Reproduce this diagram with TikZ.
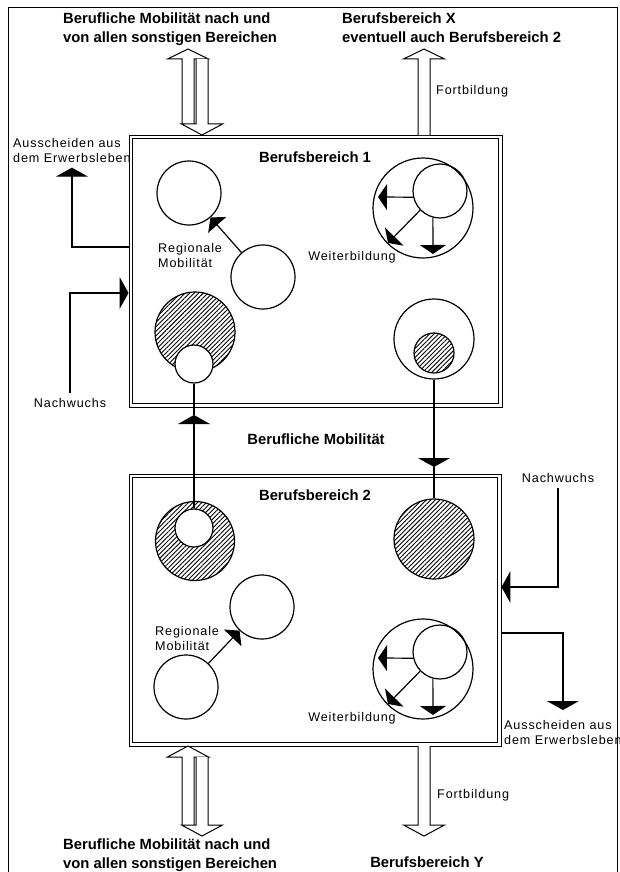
\documentclass[tikz,border=0pt]{standalone}
\usepackage{fontspec}
\setmainfont{Liberation Sans}
\usetikzlibrary{positioning,calc,arrows.meta,patterns.meta}

\tikzset{
  frame/.style={line width=0.9pt},
  bereich/.style={draw, line width=0.9pt, inner sep=0pt},
  innen/.style={line width=0.9pt},
  ring/.style={draw, circle, line width=1.2pt, inner sep=0pt},
  hatched/.style={ring, pattern={Lines[angle=45,distance=3.2pt,line width=0.9pt]}},
  blank/.style={ring, fill=white},
  titel/.style={font=\fontsize{14.8}{18.5}\selectfont\bfseries, inner sep=0pt},
  beschr/.style={font=\fontsize{12.6}{15}\selectfont\addfontfeatures{LetterSpace=7}, inner sep=0pt, align=left},
  flow/.style={line width=1.2pt},
  bigtip/.style={flow, -{Triangle[width=32pt,length=9pt]}},
  midtip/.style={flow, -{Triangle[width=24pt,length=10pt]}},
  smalltip/.style={flow, -{Triangle[width=26pt,length=9pt]}},
  broad/.style={line width=1pt, fill=white, line join=miter},
}

% broad hollow arrow: x, tail, head base, tip
\newcommand{\breitpfeil}[4]{%
  \draw[broad] (#1-6,#2) -- (#1-6,#3) -- (#1-20.5,#3) -- (#1,#4) -- (#1+20.5,#3) -- (#1+6,#3) -- (#1+6,#2);}

\begin{document}
\begin{tikzpicture}[x=1pt,y=-1pt]
\useasboundingbox (0,0) rectangle (620,872);
\draw[frame] (8,872) -- (8,7) -- (617,7) -- (617,872);

% headings
\node[titel, align=left, anchor=north west] (kopfL) at (63,13) {Berufliche Mobilität nach und\\von allen sonstigen Bereichen};
\node[titel, align=left, anchor=north west] (kopfR) at (342,13) {Berufsbereich X\\eventuell auch Berufsbereich 2};
\node[titel, align=left, anchor=north west] (fussL) at (63,839) {Berufliche Mobilität nach und\\von allen sonstigen Bereichen};
\node[titel, anchor=base] (fussR) at (427,867) {Berufsbereich Y};

% the two areas, double frame
\node[bereich, minimum width=373pt, minimum height=272pt] (b1) at (315.5,271) {};
\draw[innen] ([shift={(4,4)}]b1.north west) rectangle ([shift={(-4,-4)}]b1.south east);
\node[bereich, minimum width=372pt, minimum height=272pt] (b2) at (315,610) {};
\draw[innen] ([shift={(4,4)}]b2.north west) rectangle ([shift={(-4,-4)}]b2.south east);
\node[titel] (tb1) at (315,157) {Berufsbereich 1};
\node[titel] (tb2) at (315,495) {Berufsbereich 2};
\node[titel] (mob) at (316,439) {Berufliche Mobilität};

% broad arrows
\breitpfeil{188}{124}{59}{49}
\breitpfeil{202}{59}{124}{135}
\breitpfeil{424}{135}{59}{49}
\node[beschr, anchor=west] (fb1) at (436,91) {Fortbildung};
\breitpfeil{188}{825}{757}{746}
\breitpfeil{202}{757}{825}{836}
\breitpfeil{424}{746}{825}{836}
\node[beschr, anchor=west] (fb2) at (437,795) {Fortbildung};

% regional mobility
\node[ring, minimum size=64pt] (r1a) at (189,193) {};
\node[ring, minimum size=64pt] (r1b) at (263,277) {};
\draw[midtip] (r1b) -- (r1a);
\node[beschr, anchor=west] (reg1) at (158,255) {Regionale\\Mobilität};
\node[ring, minimum size=64pt] (r2a) at (262,607) {};
\node[ring, minimum size=64pt] (r2b) at (186,687) {};
\draw[midtip] (r2b) -- (r2a);
\node[beschr, anchor=west] (reg2) at (155,638) {Regionale\\Mobilität};

% further training
\foreach \n/\cy in {1/208, 2/669} {
  \node[ring, minimum size=100pt] (w\n) at (423,\cy) {};
  \node[ring, minimum size=54pt] (wi\n) at (440,\cy-17) {};
  \coordinate (wl\n) at (378,\cy-11);
  \coordinate (wd\n) at (388,\cy+35);
  \coordinate (wu\n) at (433,\cy+46);
  \draw[smalltip] (wi\n.193) -- (wl\n);
  \draw[smalltip] (wi\n.224) -- (wd\n);
  \draw[smalltip] (wi\n.255) -- (wu\n);
  \node[beschr] (wb\n) at (352,\cy+49) {Weiterbildung};
}

% hatched groups
\node[hatched, minimum size=80pt] (h1) at (195,332) {};
\node[blank, minimum size=38pt] (s1) at (194,364) {};
\node[ring, minimum size=80pt] (o1) at (434,339) {};
\node[hatched, minimum size=40pt] (h2) at (434,353) {};
\node[hatched, minimum size=79pt] (h3) at (195,541) {};
\node[blank, minimum size=38pt] (s2) at (194,528) {};
\node[hatched, minimum size=80pt] (h4) at (434,539) {};

% mobility between the areas
\coordinate (aufw) at (194,415);
\coordinate (abw) at (434,467);
\draw[bigtip] (s2) -- (aufw);
\draw[flow] (aufw) -- (s1);
\draw[bigtip] (o1) -- (abw);
\draw[flow] (abw) -- (h4);

% entries and exits
\node[beschr, anchor=north west] (aus1) at (13,138) {Ausscheiden aus\\dem Erwerbsleben};
\draw[bigtip] (b1.west |- 0,247) -| ([yshift=-5pt]aus1.south);
\node[beschr] (nach1) at (70,403) {Nachwuchs};
\draw[bigtip] ([yshift=5pt]nach1.north) |- (b1.west |- 0,293);
\node[beschr] (nach2) at (558,478) {Nachwuchs};
\draw[bigtip] ([yshift=-5pt]nach2.south) |- (b2.east |- 0,587);
\node[beschr, anchor=north west] (aus2) at (504,720) {Ausscheiden aus\\dem Erwerbsleben};
\draw[bigtip] (b2.east |- 0,633) -| ([yshift=10pt]aus2.north);
\end{tikzpicture}
\end{document}
